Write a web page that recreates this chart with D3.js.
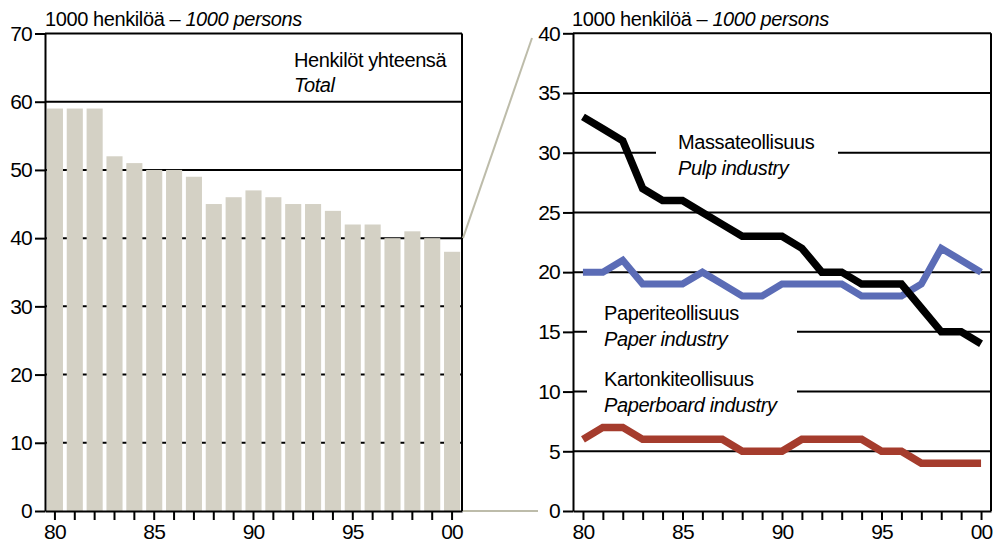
<!DOCTYPE html>
<html><head><meta charset="utf-8">
<script src="https://cdn.jsdelivr.net/npm/d3@7"></script>
<style>
body{margin:0;background:#fff}
svg{display:block}
text{font-family:"Liberation Sans",Arial,Helvetica,sans-serif;fill:#000}
</style>
</head><body><svg id="c" width="997" height="547"></svg>
<script>
// ---- data ----
const years = [1980,1981,1982,1983,1984,1985,1986,1987,1988,1989,1990,1991,1992,1993,1994,1995,1996,1997,1998,1999,2000];
const totalPersons = [59,59,59,52,51,50,50,49,45,46,47,46,45,45,44,42,42,40,41,40,38];
const pulpIndustry = [33,32,31,27,26,26,25,24,23,23,23,22,20,20,19,19,19,17,15,15,14];
const paperIndustry = [20,20,21,19,19,19,20,19,18,18,19,19,19,19,18,18,18,19,22,21,20];
const paperboardIndustry = [6,7,7,6,6,6,6,6,5,5,5,6,6,6,6,5,5,4,4,4,4];
const leftTicks = [0,10,20,30,40,50,60,70];
const rightTicks = [0,5,10,15,20,25,30,35,40];
const labeledYears = [1980,1985,1990,1995,2000];
const unitTitle = ["1000 henkilöä – ", "1000 persons"];
const totalLabel = ["Henkilöt yhteensä", "Total"];
const seriesLabels = [
  ["Massateollisuus", "Pulp industry"],
  ["Paperiteollisuus", "Paper industry"],
  ["Kartonkiteollisuus", "Paperboard industry"]
];

// ---- drawing ----
const svg = d3.select("#c");
const FS = 20, LS = "-0.4px";
const yearFmt = d => labeledYears.includes(d) ? String(d % 100).padStart(2, "0") : "";

function styleAxis(g) {
  g.select(".domain").attr("stroke", "#000").attr("stroke-width", 2);
  g.selectAll(".tick line").attr("stroke", "#000").attr("stroke-width", 2);
  g.selectAll(".tick text").attr("font-size", 21).attr("font-family", '"Liberation Sans",Arial,sans-serif').style("letter-spacing", "-0.8px").attr("fill", "#000");
}

// ===== Left chart =====
const L = {x0: 45, x1: 462, y0: 511, y1: 33.5};
const yL = d3.scaleLinear().domain([0, 70]).range([L.y0, L.y1]);
const xL = d3.scaleBand().domain(years).range([L.x0, L.x1]).paddingInner(0.19).paddingOuter(0.095);

svg.append("g").selectAll("line").data(leftTicks.filter(t => t > 0 && t < 70)).join("line")
  .attr("x1", L.x0).attr("x2", L.x1).attr("y1", d => yL(d)).attr("y2", d => yL(d))
  .attr("stroke", "#000").attr("stroke-width", 2);

svg.append("g").selectAll("rect").data(years).join("rect")
  .attr("x", d => xL(d)).attr("width", xL.bandwidth())
  .attr("y", (d, i) => yL(totalPersons[i])).attr("height", (d, i) => yL(0) - yL(totalPersons[i]))
  .attr("fill", "#d4d1c5");

// frame top & right
svg.append("line").attr("x1", L.x0).attr("x2", L.x1).attr("y1", yL(70)).attr("y2", yL(70)).attr("stroke", "#000").attr("stroke-width", 2);
svg.append("line").attr("x1", L.x1).attr("x2", L.x1).attr("y1", yL(70)).attr("y2", yL(0)).attr("stroke", "#000").attr("stroke-width", 2);

const gLy = svg.append("g").attr("transform", `translate(${L.x0},0)`)
  .call(d3.axisLeft(yL).tickValues(leftTicks).tickSize(10).tickSizeOuter(0).tickPadding(3));
styleAxis(gLy);
const gLx = svg.append("g").attr("transform", `translate(0,${L.y0})`)
  .call(d3.axisBottom(xL).tickSize(9).tickSizeOuter(0).tickPadding(4).tickFormat(yearFmt));
styleAxis(gLx);

const t1 = svg.append("text").attr("x", 45).attr("y", 26).attr("font-size", FS).style("letter-spacing", LS);
t1.append("tspan").text(unitTitle[0]);
t1.append("tspan").attr("font-style", "italic").text(unitTitle[1]);

svg.append("text").attr("x", 294).attr("y", 67).attr("font-size", FS).style("letter-spacing", LS).text(totalLabel[0]);
svg.append("text").attr("x", 294).attr("y", 92).attr("font-size", FS).style("letter-spacing", LS).attr("font-style", "italic").text(totalLabel[1]);

// ===== Right chart =====
const R = {x0: 573, x1: 991, y0: 511, y1: 33.3};
const yR = d3.scaleLinear().domain([0, 40]).range([R.y0, R.y1]);
const xR = d3.scalePoint().domain(years).range([R.x0, R.x1]).padding(0.5);

svg.append("g").selectAll("line").data(rightTicks.filter(t => t > 0 && t < 40)).join("line")
  .attr("x1", R.x0).attr("x2", R.x1).attr("y1", d => yR(d)).attr("y2", d => yR(d))
  .attr("stroke", "#000").attr("stroke-width", 2);

// label backgrounds + labels
const labelPos = [
  {bx: 656, bw: 182, by: 128, bh: 52, tx: 678, ty: 149},
  {bx: 587, bw: 210, by: 300, bh: 54, tx: 604, ty: 320},
  {bx: 587, bw: 210, by: 362, bh: 54, tx: 604, ty: 386}
];
seriesLabels.forEach((lab, i) => {
  const p = labelPos[i];
  svg.append("rect").attr("x", p.bx).attr("y", p.by).attr("width", p.bw).attr("height", p.bh).attr("fill", "#fff");
  svg.append("text").attr("x", p.tx).attr("y", p.ty).attr("font-size", FS).style("letter-spacing", LS).text(lab[0]);
  svg.append("text").attr("x", p.tx).attr("y", p.ty + 26).attr("font-size", FS).style("letter-spacing", LS).attr("font-style", "italic").text(lab[1]);
});

const lineGen = vals => d3.line().x((d, i) => xR(years[i])).y(d => yR(d))(vals);
[[paperboardIndustry, "#a53c2d", 7.5], [paperIndustry, "#5b6cb6", 7], [pulpIndustry, "#000", 7.5]].forEach(([vals, col, w]) => {
  svg.append("path").attr("d", lineGen(vals)).attr("fill", "none").attr("stroke", col)
    .attr("stroke-width", w).attr("stroke-linejoin", "miter").attr("stroke-linecap", "butt");
});

svg.append("line").attr("x1", R.x0).attr("x2", R.x1).attr("y1", yR(40)).attr("y2", yR(40)).attr("stroke", "#000").attr("stroke-width", 2);
svg.append("line").attr("x1", R.x1).attr("x2", R.x1).attr("y1", yR(40)).attr("y2", yR(0)).attr("stroke", "#000").attr("stroke-width", 2);

const gRy = svg.append("g").attr("transform", `translate(${R.x0},0)`)
  .call(d3.axisLeft(yR).tickValues(rightTicks).tickSize(10).tickSizeOuter(0).tickPadding(3));
styleAxis(gRy);
const gRx = svg.append("g").attr("transform", `translate(0,${R.y0})`)
  .call(d3.axisBottom(xR).tickSize(9).tickSizeOuter(0).tickPadding(4).tickFormat(yearFmt));
styleAxis(gRx);

const t2 = svg.append("text").attr("x", 572).attr("y", 26).attr("font-size", FS).style("letter-spacing", LS);
t2.append("tspan").text(unitTitle[0]);
t2.append("tspan").attr("font-style", "italic").text(unitTitle[1]);

// ===== zoom connector =====
svg.append("line").attr("x1", L.x1 + 1).attr("y1", yL(40)).attr("x2", 532).attr("y2", 38)
  .attr("stroke", "#bdbcaa").attr("stroke-width", 2);
svg.append("line").attr("x1", L.x1 + 1).attr("y1", yL(0)).attr("x2", 538).attr("y2", yL(0))
  .attr("stroke", "#bdbcaa").attr("stroke-width", 2);
</script></body></html>
